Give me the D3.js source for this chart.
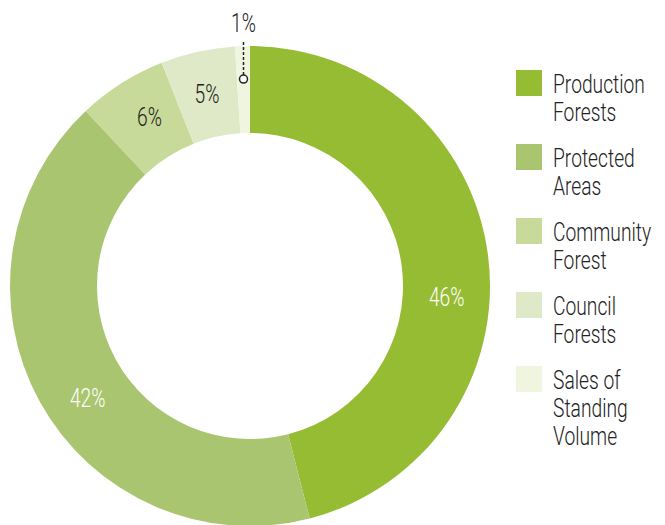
<!DOCTYPE html>
<html>
<head>
<meta charset="utf-8">
<script src="https://cdn.jsdelivr.net/npm/d3@7"></script>
<style>
  body { margin: 0; background: #fff; }
  text { font-family: "Roboto", "Liberation Sans", sans-serif; font-weight: 300; }
</style>
</head>
<body>
<div id="chart"></div>
<script>
const width = 665
const height = 525

// data
const categories = ["Production Forests", "Protected Areas", "Community Forest", "Council Forests", "Sales of Standing Volume"]
const legendLines = [["Production", "Forests"], ["Protected", "Areas"], ["Community", "Forest"], ["Council", "Forests"], ["Sales of", "Standing", "Volume"]]
const shares = [46, 42, 6, 5, 1]
const labels = ["46%", "42%", "6%", "5%", "1%"]

const colorScale = d3.scaleOrdinal()
    .domain(categories)
    .range(["#96bc33", "#a9c56f", "#c8da99", "#dfe9c8", "#f0f5e0"])

const cx = 250, cy = 286
const outerR = 240, innerR = 153
const fontSize = 26
const squeeze = 0.74 // the original uses a condensed face

const svg = d3.select("#chart")
  .append("svg")
    .attr("width", width)
    .attr("height", height)

const g = svg.append("g")
    .attr("transform", `translate(${cx},${cy})`)

const pie = d3.pie().sort(null).value(d => d.value)
const arcs = pie(categories.map((c, i) => ({name: c, value: shares[i], label: labels[i]})))

const arc = d3.arc().innerRadius(innerR).outerRadius(outerR)

g.selectAll(".slice")
  .data(arcs)
  .enter()
  .append("path")
    .attr("class", "slice")
    .attr("d", arc)
    .attr("fill", d => colorScale(d.data.name))

// percent labels (the two big ones are nudged off their centroid like the original)
const labelR = 197
const angleNudge = {0: 0.18, 1: -0.1, 2: 0.03}
const inside = arcs.filter(d => d.data.value > 2)

g.selectAll(".pct")
  .data(inside)
  .enter()
  .append("text")
    .attr("class", "pct")
    .attr("text-anchor", "middle")
    .attr("dy", "0.36em")
    .attr("font-size", fontSize)
    .attr("fill", (d, i) => i < 2 ? "#ffffff" : "#222")
    .attr("transform", d => {
      const a = (d.startAngle + d.endAngle) / 2 + (angleNudge[d.index] || 0)
      return `translate(${labelR * Math.sin(a)},${-labelR * Math.cos(a)}) scale(${squeeze},1)`
    })
    .text(d => d.data.label)

// small slice gets a leader line
const small = arcs.filter(d => d.data.value <= 2)
small.forEach(d => {
  const a = (d.startAngle + d.endAngle) / 2
  const x = 207 * Math.sin(a), y = -207 * Math.cos(a)
  g.append("line")
    .attr("x1", x).attr("y1", y - 4)
    .attr("x2", x).attr("y2", -outerR - 4)
    .attr("stroke", "#222")
    .attr("stroke-width", 1.5)
    .attr("stroke-dasharray", "3,2")
  g.append("circle")
    .attr("cx", x).attr("cy", y).attr("r", 4)
    .attr("fill", "#fff")
    .attr("stroke", "#222")
    .attr("stroke-width", 1.5)
  g.append("text")
    .attr("transform", `translate(${x},${-outerR - 14}) scale(${squeeze},1)`)
    .attr("text-anchor", "middle")
    .attr("font-size", fontSize)
    .attr("fill", "#222")
    .text(d.data.label)
})

// legend
const legend = svg.selectAll(".legend")
  .data(categories)
  .enter()
  .append("g")
    .attr("class", "legend")
    .attr("transform", (d, i) => `translate(516,${70 + i * 74})`)

legend.append("rect")
    .attr("width", 26)
    .attr("height", 26)
    .attr("fill", colorScale)

legend.append("text")
    .attr("transform", `translate(37,23) scale(${squeeze},1)`)
    .attr("font-size", fontSize)
    .attr("fill", "#222")
  .selectAll("tspan")
  .data((d, i) => legendLines[i])
  .enter()
  .append("tspan")
    .attr("x", 0)
    .attr("dy", (d, i) => i === 0 ? 0 : 28)
    .text(d => d)
</script>
</body>
</html>
